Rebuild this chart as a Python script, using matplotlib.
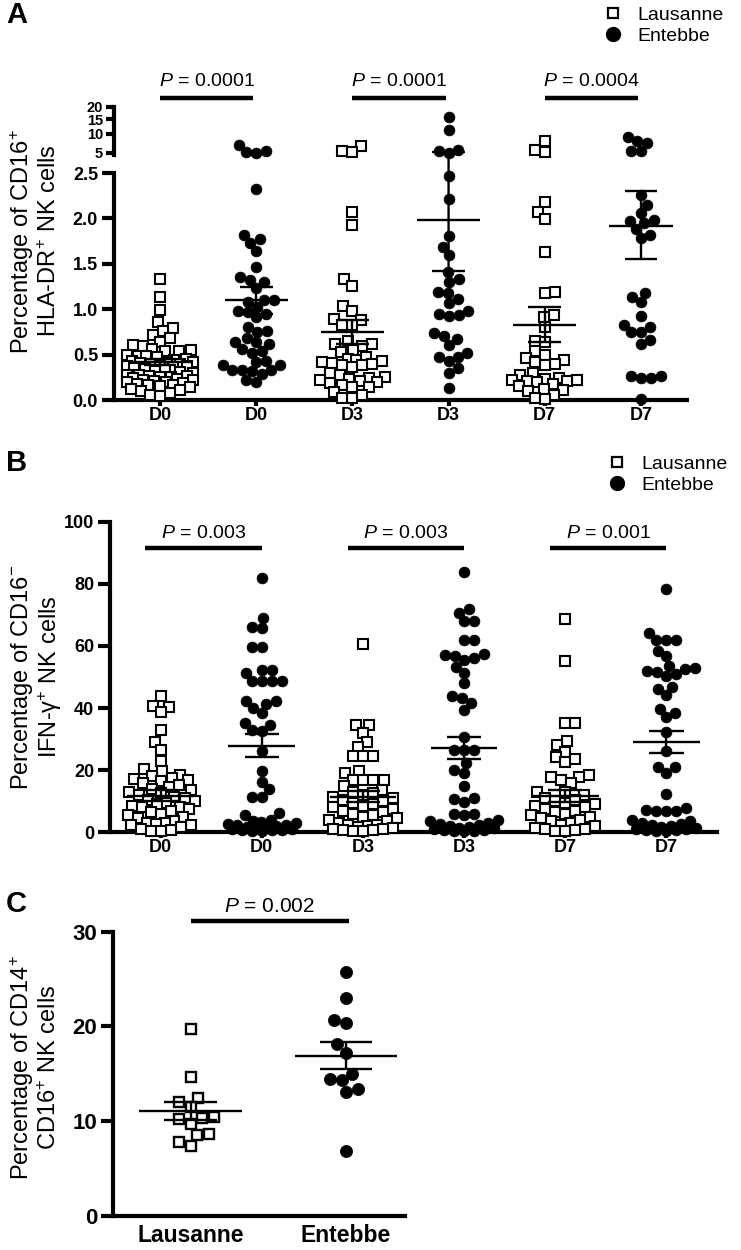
import numpy as np
import matplotlib

matplotlib.use("Agg")
import matplotlib.pyplot as plt  # noqa: E402
from matplotlib.lines import Line2D  # noqa: E402
from matplotlib.patches import ConnectionPatch  # noqa: E402
from matplotlib.transforms import blended_transform_factory  # noqa: E402

plt.rcParams["font.family"] = ["Liberation Sans", "DejaVu Sans"]
plt.rcParams["mathtext.fontset"] = "custom"
plt.rcParams["mathtext.rm"] = "Liberation Sans"
plt.rcParams["mathtext.it"] = "Liberation Sans:italic"
plt.rcParams["mathtext.bf"] = "Liberation Sans:bold"

# --- data -------------------------------------------------------------

GROUPS = ["D0", "D0", "D3", "D3", "D7", "D7"]
SITES = ["Lausanne", "Entebbe"]

# Panel A: % CD16+ HLA-DR+ NK cells (values above the break go to the top segment)
a_laus_d0 = [1.33, 1.13, 0.99, 0.86, 0.79, 0.76, 0.72, 0.68, 0.64, 0.61, 0.60, 0.56,
             0.55, 0.54, 0.54, 0.50, 0.49, 0.48, 0.47, 0.45, 0.44, 0.43, 0.42, 0.42,
             0.41, 0.40, 0.40, 0.38, 0.37, 0.37, 0.36, 0.35, 0.34, 0.33, 0.32, 0.31,
             0.30, 0.28, 0.27, 0.26, 0.26, 0.25, 0.25, 0.24, 0.23, 0.22, 0.22, 0.21,
             0.20, 0.20, 0.19, 0.18, 0.17, 0.16, 0.15, 0.14, 0.12, 0.11, 0.10, 0.08,
             0.06, 0.04]
a_ent_d0 = [6.8, 5.4, 5.1, 4.95, 2.32, 1.82, 1.77, 1.73, 1.64, 1.46, 1.35, 1.32, 1.30,
            1.23, 1.10, 1.10, 1.08, 1.02, 0.98, 0.97, 0.95, 0.91, 0.80, 0.76, 0.745,
            0.68, 0.64, 0.635, 0.62, 0.56, 0.54, 0.52, 0.43, 0.42, 0.39, 0.38, 0.33,
            0.33, 0.33, 0.32, 0.29, 0.22, 0.195]
a_laus_d3 = [6.56, 5.37, 5.22, 2.07, 1.93, 1.33, 1.26, 1.03, 0.98, 0.89, 0.88, 0.83,
             0.83, 0.65, 0.62, 0.62, 0.60, 0.55, 0.525, 0.47, 0.45, 0.44, 0.43, 0.42,
             0.41, 0.40, 0.39, 0.38, 0.36, 0.30, 0.28, 0.25, 0.24, 0.23, 0.22, 0.21,
             0.20, 0.19, 0.17, 0.14, 0.14, 0.09, 0.06, 0.02, 0.02]
a_ent_d3 = [15.7, 11.2, 5.6, 5.37, 4.87, 2.47, 2.21, 1.81, 1.69, 1.60, 1.41, 1.33, 1.30,
            1.19, 1.18, 1.11, 1.07, 0.98, 0.95, 0.94, 0.92, 0.74, 0.71, 0.67, 0.61,
            0.52, 0.47, 0.47, 0.43, 0.35, 0.30, 0.135]
a_laus_d7 = [7.95, 5.6, 5.22, 2.18, 2.07, 1.99, 1.63, 1.19, 1.18, 0.94, 0.91, 0.80,
             0.65, 0.64, 0.54, 0.50, 0.46, 0.44, 0.42, 0.40, 0.38, 0.30, 0.27, 0.24,
             0.23, 0.22, 0.22, 0.21, 0.21, 0.20, 0.18, 0.15, 0.12, 0.11, 0.10, 0.06,
             0.02, 0.01]
a_ent_d7 = [8.9, 7.95, 7.25, 5.37, 5.37, 2.26, 2.15, 2.06, 1.98, 1.97, 1.95, 1.88, 1.82,
            1.78, 1.18, 1.13, 1.08, 0.925, 0.83, 0.80, 0.75, 0.745, 0.66, 0.62, 0.265,
            0.265, 0.24, 0.24, 0.01]
a_mean = [0.42, 1.10, 0.75, 1.98, 0.83, 1.92]
a_sem_lo = [0.38, 0.95, 0.62, 1.42, 0.64, 1.55]
a_sem_hi = [0.45, 1.25, 0.88, 5.1, 1.02, 2.30]
a_pvals = ["0.0001", "0.0001", "0.0004"]

# Panel B: % CD16- IFN-gamma+ NK cells
b_laus_d0 = [44.0, 40.7, 40.4, 38.6, 32.9, 29.2, 26.5, 23.0, 20.3, 19.7, 18.5, 18.1,
             17.5, 17.0, 16.8, 16.5, 15.8, 15.2, 14.5, 14.0, 13.5, 13.0, 12.5, 12.0,
             11.5, 11.0, 10.5, 10.0, 9.5, 9.0, 8.5, 8.2, 8.0, 7.5, 7.0, 6.5, 6.0, 5.5,
             5.0, 4.5, 3.5, 3.1, 3.0, 2.8, 2.5, 2.3, 1.8, 1.2, 0.8, 0.5, 0.3]
b_ent_d0 = [82.0, 68.9, 66.0, 65.7, 59.8, 59.6, 52.3, 52.3, 51.4, 48.7, 48.7, 48.7,
            48.7, 42.3, 42.3, 41.3, 39.9, 38.3, 35.3, 34.5, 32.9, 32.6, 26.3, 19.8,
            16.1, 13.8, 11.5, 11.5, 6.1, 5.6, 4.0, 3.5, 3.2, 3.0, 2.7, 2.5, 2.2, 2.0,
            1.8, 1.6, 1.4, 1.2, 1.0, 0.9, 0.8, 0.6, 0.5, 0.4]
b_laus_d3 = [60.5, 34.6, 34.6, 32.1, 29.0, 27.4, 24.6, 24.6, 24.6, 19.8, 19.0, 16.8,
             16.8, 16.8, 16.8, 14.9, 13.6, 13.0, 12.5, 12.0, 11.5, 11.0, 10.5, 10.0,
             9.5, 9.0, 8.5, 8.0, 7.5, 7.0, 6.5, 6.0, 5.5, 5.0, 4.5, 4.0, 3.5, 3.0, 2.5,
             2.2, 2.0, 1.8, 1.5, 1.2, 1.0, 0.8, 0.6, 0.4, 0.3]
b_ent_d3 = [83.7, 71.8, 70.7, 67.9, 67.9, 61.9, 61.9, 57.3, 57.1, 56.8, 56.0, 55.5,
            53.3, 51.4, 48.0, 43.9, 43.1, 41.7, 39.4, 30.6, 26.5, 26.5, 26.5, 22.2,
            20.0, 19.0, 14.9, 10.9, 10.6, 9.9, 6.0, 5.8, 5.5, 4.0, 3.5, 3.0, 2.6, 2.3,
            2.0, 1.8, 1.5, 1.3, 1.1, 0.9, 0.7, 0.5, 0.4, 0.3]
b_laus_d7 = [68.6, 55.2, 35.3, 35.3, 29.5, 28.1, 26.0, 24.3, 23.5, 22.7, 18.4, 17.9,
             17.7, 16.8, 15.8, 13.1, 13.1, 12.0, 11.0, 10.5, 10.0, 9.5, 9.0, 8.5, 8.0,
             7.5, 7.0, 6.5, 6.0, 5.5, 5.0, 4.5, 4.0, 3.5, 3.0, 2.5, 2.0, 1.5, 1.2, 1.0,
             0.8, 0.5, 0.3]
b_ent_d7 = [78.2, 64.3, 61.9, 61.9, 61.9, 58.5, 56.8, 53.5, 53.0, 52.5, 52.0, 51.5,
            51.0, 50.4, 46.9, 46.0, 44.2, 39.6, 38.5, 37.0, 32.4, 26.2, 21.1, 20.9,
            19.2, 12.2, 7.8, 7.2, 7.0, 7.0, 6.8, 4.0, 3.5, 3.0, 2.6, 2.3, 2.0, 1.7,
            1.5, 1.2, 1.0, 0.8, 0.6, 0.4, 0.3]
b_mean = [11.8, 27.9, 11.5, 27.0, 11.7, 29.0]
b_sem_lo = [10.0, 24.1, 9.6, 23.5, 9.7, 25.6]
b_sem_hi = [13.6, 31.6, 13.4, 30.8, 13.7, 32.6]
b_pvals = ["0.003", "0.003", "0.001"]

# Panel C: % CD14+ CD16+ NK cells
c_laus = [19.7, 14.7, 12.5, 12.0, 11.5, 10.4, 10.3, 10.2, 9.7, 8.7, 8.5, 7.8, 7.4]
c_ent = [25.8, 23.0, 20.7, 20.4, 18.1, 17.2, 15.0, 14.5, 14.3, 13.4, 13.1, 6.9]
c_mean = [11.1, 16.9]
c_sem_lo = [10.1, 15.5]
c_sem_hi = [12.0, 18.4]
c_pval = "0.002"

# --- layout helpers ----------------------------------------------------

W, H = 741, 1250
fig = plt.figure(figsize=(W / 100, H / 100), dpi=100)

SQ = dict(ls="none", marker="s", mfc="white", mec="black", zorder=3, clip_on=False)
DOT = dict(ls="none", marker="o", mfc="black", mec="black", zorder=3, clip_on=False)


def px_axes(left, top, right, bottom):
    return fig.add_axes([left / W, 1 - bottom / H, (right - left) / W, (bottom - top) / H])


def style(ax, size):
    for side in ("top", "right"):
        ax.spines[side].set_visible(False)
    for side in ("left", "bottom"):
        ax.spines[side].set_linewidth(3.0)
    ax.tick_params(axis="y", width=3.0, length=8.5, pad=3, labelsize=size)
    ax.tick_params(axis="x", width=3.0, length=4, pad=1, labelsize=size)


def swarm(ax, xc, values, dist_px, max_px):
    """Simple beeswarm: x positions (data units) so markers do not overlap."""
    vals = np.asarray(values, float)
    disp = ax.transData.transform(np.column_stack([np.full(len(vals), xc), vals]))
    x0, ys = disp[0, 0], disp[:, 1]
    steps = np.arange(0.5, max_px + 0.01, 0.5)
    offs = np.zeros(len(vals))
    px, py = [], []
    for k, i in enumerate(np.argsort(ys, kind="stable")):
        sgn = 1 if k % 2 == 0 else -1
        cands = np.concatenate([[0.0], np.column_stack([sgn * steps, -sgn * steps]).ravel()])
        if px:
            d = np.hypot(np.array(px)[None, :] - cands[:, None], np.array(py)[None, :] - ys[i])
            d = d.min(axis=1)
            good = np.nonzero(d >= dist_px)[0]
            c = cands[good[0]] if len(good) else cands[np.argmax(d)]
        else:
            c = 0.0
        offs[i] = c
        px.append(c)
        py.append(ys[i])
    back = ax.transData.inverted().transform(np.column_stack([x0 + offs, ys]))
    return back[:, 0]


def mean_sem(ax, x, m, lo, hi, ax_hi=None):
    kw = dict(color="black", lw=1.7, zorder=4, clip_on=False)
    ax.hlines(m, x - 0.33, x + 0.33, **kw)
    ax.hlines(lo, x - 0.17, x + 0.17, **kw)
    if ax_hi is None:
        ax.hlines(hi, x - 0.17, x + 0.17, **kw)
        ax.vlines(x, lo, hi, **kw)
    else:
        ax_hi.hlines(hi, x - 0.17, x + 0.17, **kw)
        con = ConnectionPatch(xyA=(x, lo), coordsA=ax.transData, xyB=(x, hi),
                              coordsB=ax_hi.transData, color="black", lw=1.7, zorder=4)
        fig.add_artist(con)


def sig_bar(ax, x0, x1, bar_px, text_px, pval, size):
    tr = blended_transform_factory(ax.transData, fig.transFigure)
    ax.plot([x0, x1], [1 - bar_px / H] * 2, transform=tr, color="black", lw=3.2,
            clip_on=False, solid_capstyle="butt")
    ax.text((x0 + x1) / 2, 1 - text_px / H, rf"$P$ = {pval}", transform=tr,
            ha="center", va="center", fontsize=size)


def ylabel(x1, x2, yc, line1, line2):
    for x, s in ((x1, line1), (x2, line2)):
        fig.text(x / W, 1 - yc / H, s, rotation=90, ha="center", va="center", fontsize=17)


def legend(left_px, top_px):
    handles = [Line2D([], [], ls="none", marker="s", ms=7.5, mfc="white", mec="black", mew=1.6),
               Line2D([], [], ls="none", marker="o", ms=10, color="black")]
    fig.legend(handles, SITES, loc="upper left", bbox_to_anchor=(left_px / W, 1 - top_px / H),
               frameon=False, fontsize=14, handlelength=1.0, handletextpad=0.75,
               labelspacing=0.2, borderpad=0, borderaxespad=0)


def panel_letter(x_px, y_px, letter):
    fig.text(x_px / W, 1 - y_px / H, letter, ha="center", va="center", fontsize=21,
             fontweight="heavy")


xpos = np.arange(len(GROUPS))

# --- panel A (broken y axis) ------------------------------------------

ax_a = px_axes(114, 173, 687, 400)
ax_a_top = px_axes(114, 106.7, 687, 154.6)
for ax in (ax_a, ax_a_top):
    style(ax, 13)
    ax.set_xlim(-0.48, 5.48)
ax_a.set_ylim(0, 2.5)
ax_a.set_yticks(np.arange(0, 2.51, 0.5), [f"{v:.1f}" for v in np.arange(0, 2.51, 0.5)],
                fontweight="bold")
ax_a.set_xticks(xpos, GROUPS, fontweight="bold")
ax_a_top.set_yscale("function", functions=(np.sqrt, np.square))
ax_a_top.set_ylim(4.6, 20)
# the reference squeezes these four labels together; keep them small so they only touch
ax_a_top.set_yticks([5, 10, 15, 20], ["5", "10", "15", "20"], fontweight="bold",
                    fontsize=10.5)
ax_a_top.tick_params(axis="y", length=6, pad=2)
ax_a_top.spines["bottom"].set_visible(False)
ax_a_top.set_xticks([])
ax_a_top.patch.set_alpha(0)

BREAK = 2.5
a_sets = [a_laus_d0, a_ent_d0, a_laus_d3, a_ent_d3, a_laus_d7, a_ent_d7]
for i, vals in enumerate(a_sets):
    vals = np.asarray(vals)
    style_kw = SQ if i % 2 == 0 else DOT
    ms, mew = (6.6, 1.5) if i % 2 == 0 else (7.8, 0.5)
    low, high = vals[vals <= BREAK], vals[vals > BREAK]
    ax_a.plot(swarm(ax_a, i, low, 10.0, 33), low, ms=ms, mew=mew, **style_kw)
    if len(high):
        ax_a_top.plot(swarm(ax_a_top, i, high, 10.0, 33), high, ms=ms, mew=mew, **style_kw)
    top_ax = ax_a_top if a_sem_hi[i] > BREAK else None
    mean_sem(ax_a, i, a_mean[i], a_sem_lo[i], a_sem_hi[i], top_ax)

for k, p in enumerate(a_pvals):
    sig_bar(ax_a, 2 * k, 2 * k + 1 - 0.03, 98, 82, p, 14)

ylabel(22, 50, 241, r"Percentage of CD16$^{+}$", r"HLA-DR$^{+}$ NK cells")
legend(603, 6)
panel_letter(17, 15, "A")

# --- panel B -------------------------------------------------------------

ax_b = px_axes(110, 521.7, 717, 832.3)
style(ax_b, 13)
ax_b.set_xlim(-0.5, 5.5)
ax_b.set_ylim(0, 100)
ax_b.set_yticks(np.arange(0, 101, 20), [str(v) for v in range(0, 101, 20)], fontweight="bold")
ax_b.set_xticks(xpos, GROUPS, fontweight="bold")

b_sets = [b_laus_d0, b_ent_d0, b_laus_d3, b_ent_d3, b_laus_d7, b_ent_d7]
for i, vals in enumerate(b_sets):
    style_kw = SQ if i % 2 == 0 else DOT
    ms, mew = (6.6, 1.5) if i % 2 == 0 else (7.8, 0.5)
    ax_b.plot(swarm(ax_b, i, vals, 10.0, 34), vals, ms=ms, mew=mew, **style_kw)
    mean_sem(ax_b, i, b_mean[i], b_sem_lo[i], b_sem_hi[i])

for k, p in enumerate(b_pvals):
    sig_bar(ax_b, 2 * k - 0.15, 2 * k + 1, 548.3, 533, p, 14)

ylabel(22, 50, 677, r"Percentage of CD16$^{-}$", r"IFN-γ$^{+}$ NK cells")
legend(607, 455)
panel_letter(17, 463, "B")

# --- panel C -------------------------------------------------------------

ax_c = px_axes(113, 931.7, 405, 1216)
style(ax_c, 16)
ax_c.set_xlim(-0.5, 1.38)
ax_c.set_ylim(0, 30)
ax_c.set_yticks([0, 10, 20, 30], ["0", "10", "20", "30"], fontweight="bold")
ax_c.set_xticks([0, 1], SITES, fontweight="bold", fontsize=16.5)
ax_c.tick_params(axis="x", length=0, pad=6)

ax_c.plot(swarm(ax_c, 0, c_laus, 12.0, 55), c_laus, ms=7.8, mew=1.7, **SQ)
ax_c.plot(swarm(ax_c, 1, c_ent, 12.0, 55), c_ent, ms=8.8, mew=0.5, **DOT)
for i in range(2):
    mean_sem(ax_c, i, c_mean[i], c_sem_lo[i], c_sem_hi[i])
sig_bar(ax_c, 0.0, 1.02, 921, 907, c_pval, 15)

ylabel(22, 50, 1067, r"Percentage of CD14$^{+}$", r"CD16$^{+}$ NK cells")
panel_letter(16, 904, "C")

fig.savefig("out.png", dpi=100)
